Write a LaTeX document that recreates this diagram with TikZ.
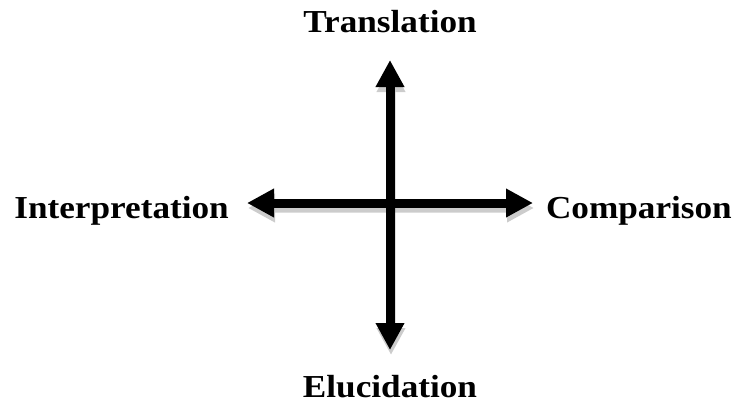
\documentclass[tikz,border=0pt]{standalone}
\usepackage{fontspec}
\setmainfont{Liberation Serif}[FakeStretch=1.1]
\usetikzlibrary{arrows.meta}
\begin{document}
\begin{tikzpicture}[x=1pt,y=-1pt,
  lbl/.style={inner sep=0pt,font=\fontsize{32}{38}\selectfont\bfseries},
  axis/.style={line width=9pt,{Triangle[length=27pt,width=27pt]}-{Triangle[length=27pt,width=27pt]}},
  shadowline/.style={axis,draw=black,fill=black,transform canvas={xshift=1pt,yshift=-5pt}}]
\useasboundingbox (0,0) rectangle (735,405);
\coordinate (top) at (390,60);
\coordinate (bot) at (390,350);
\coordinate (lft) at (247,203);
\coordinate (rgt) at (533,203);
\node[lbl,anchor=base] (trans) at (390,32) {Translation};
\node[lbl,anchor=base] (eluc) at (390,397) {Elucidation};
\node[lbl,anchor=base east] (interp) at (229,218) {Interpretation};
\node[lbl,anchor=base east] (comp) at (732,218) {Comparison};
\begin{scope}[transparency group,opacity=0.2]
  \draw[shadowline] (top) -- (bot);
\end{scope}
\draw[axis] (top) -- (bot);
\begin{scope}[transparency group,opacity=0.2]
  \draw[shadowline] (lft) -- (rgt);
\end{scope}
\draw[axis] (lft) -- (rgt);
\end{tikzpicture}
\end{document}
